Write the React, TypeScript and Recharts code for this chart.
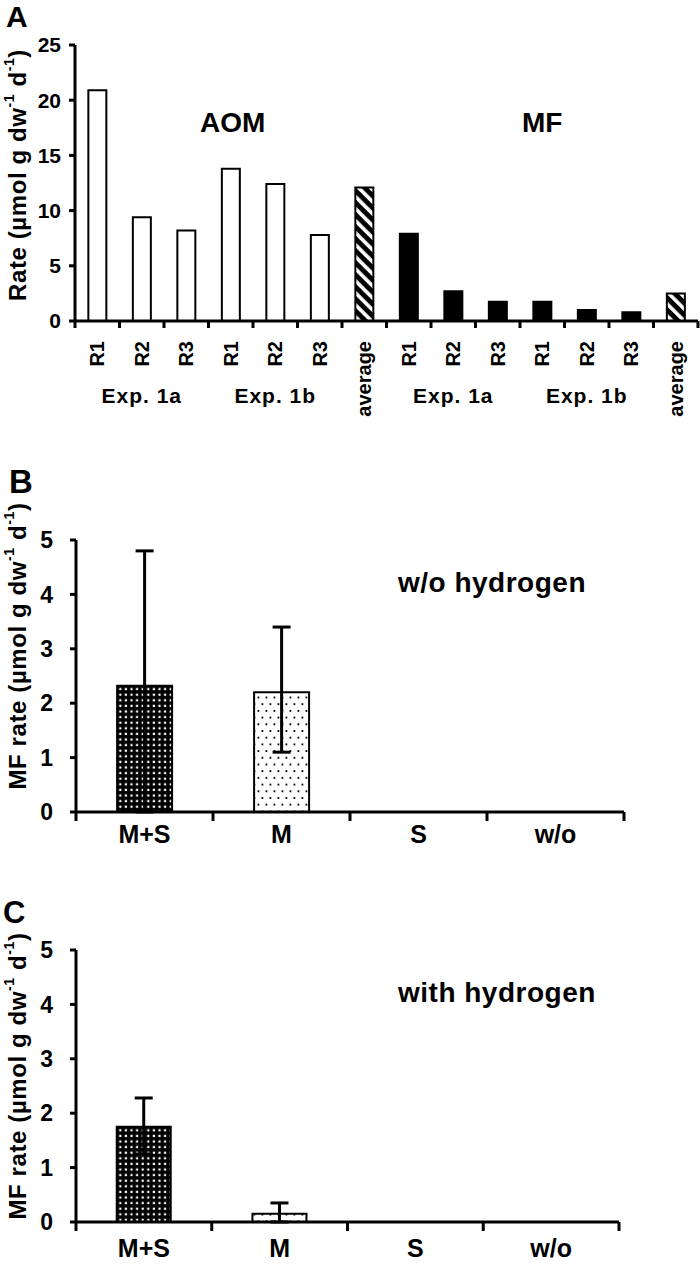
import { Bar, BarChart, Cell, ErrorBar, XAxis, YAxis } from "recharts";

const FONT = '"Liberation Sans", Arial, Helvetica, sans-serif';

// Panel A: rates per replicate (µmol g dw-1 d-1)
const rateCategories = ["R1", "R2", "R3", "R1", "R2", "R3", "average", "R1", "R2", "R3", "R1", "R2", "R3", "average"];
const rateProcesses = ["AOM", "AOM", "AOM", "AOM", "AOM", "AOM", "AOM", "MF", "MF", "MF", "MF", "MF", "MF", "MF"];
const rateExperiments = ["", "Exp. 1a", "", "", "Exp. 1b", "", "", "", "Exp. 1a", "", "", "Exp. 1b", "", ""];
const rateValues = [20.9, 9.4, 8.2, 13.8, 12.4, 7.8, 12.1, 7.9, 2.7, 1.75, 1.75, 1.0, 0.8, 2.5];
const rateTicks = [0, 5, 10, 15, 20, 25];

// Panels B and C: MF rate per treatment, mean with error
const treatments = ["M+S", "M", "S", "w/o"];
const mfWithoutH2 = [2.32, 2.2, 0, 0];
const mfWithoutH2Err = [[2.32, 2.48], [1.1, 1.2], null, null];
const mfWithH2 = [1.75, 0.15, 0, 0];
const mfWithH2Err = [[0.5, 0.53], [0.15, 0.2], null, null];
const mfTicks = [0, 1, 2, 3, 4, 5];

const rateData = rateValues.map((value, i) => ({ key: String(i), value }));
const withoutH2Data = treatments.map((name, i) => ({ name, value: mfWithoutH2[i], err: mfWithoutH2Err[i] }));
const withH2Data = treatments.map((name, i) => ({ name, value: mfWithH2[i], err: mfWithH2Err[i] }));

const rateFill = (i: number) =>
  rateCategories[i] === "average" ? "url(#hatchA)" : rateProcesses[i] === "AOM" ? "#fff" : "#000";

const A_LEFT = 75;
const A_RIGHT = 698;

function RateTick(props: any) {
  const { x, y, index } = props;
  const band = (A_RIGHT - A_LEFT) / rateCategories.length;
  const last = index === rateCategories.length - 1;
  return (
    <g>
      <line x1={x - band / 2} x2={x - band / 2} y1={y} y2={y + 7} stroke="#000" strokeWidth={3} />
      {last ? <line x1={x + band / 2} x2={x + band / 2} y1={y} y2={y + 7} stroke="#000" strokeWidth={3} /> : null}
      <text
        transform={`translate(${x},${y + 20}) rotate(-90)`}
        textAnchor="end"
        dominantBaseline="central"
        fontSize={20}
        fontWeight="bold"
        fontFamily={FONT}
        fill="#000"
      >
        {rateCategories[index]}
      </text>
      {rateExperiments[index] ? (
        <text
          x={x}
          y={y + 82}
          textAnchor="middle"
          fontSize={21}
          fontWeight="bold"
          letterSpacing={1}
          fontFamily={FONT}
          fill="#000"
        >
          {rateExperiments[index]}
        </text>
      ) : null}
    </g>
  );
}

function makeTreatmentTick(band: number, labelDy: number) {
  return function TreatmentTick(props: any) {
    const { x, y, index } = props;
    const last = index === treatments.length - 1;
    return (
      <g>
        <line x1={x - band / 2} x2={x - band / 2} y1={y} y2={y + 9} stroke="#000" strokeWidth={3} />
        {last ? <line x1={x + band / 2} x2={x + band / 2} y1={y} y2={y + 9} stroke="#000" strokeWidth={3} /> : null}
        <text x={x} y={y + labelDy} textAnchor="middle" fontSize={25} fontWeight="bold" fontFamily={FONT} fill="#000">
          {treatments[index]}
        </text>
      </g>
    );
  };
}

function AxisTitle({ cx, cy, prefix }: { cx: number; cy: number; prefix: string }) {
  return (
    <text
      transform={`translate(${cx},${cy}) rotate(-90)`}
      textAnchor="middle"
      dominantBaseline="central"
      fontSize={24}
      fontWeight="bold"
      letterSpacing={0.6}
      fontFamily={FONT}
      fill="#000"
    >
      {prefix} (µmol g dw
      <tspan dy={-8} fontSize={14}>-1</tspan>
      <tspan dy={8}> d</tspan>
      <tspan dy={-8} fontSize={14}>-1</tspan>
      <tspan dy={8}>)</tspan>
    </text>
  );
}

function PanelLetter({ x, y, size, children }: { x: number; y: number; size: number; children: string }) {
  return (
    <text x={x} y={y} fontSize={size} fontWeight="bold" fontFamily={FONT} fill="#000">
      {children}
    </text>
  );
}

function DotPatterns({ prefix }: { prefix: string }) {
  return (
    <defs>
      <pattern id={`${prefix}Dense`} patternUnits="userSpaceOnUse" width={5.6} height={5.6}>
        <rect width={5.6} height={5.6} fill="#000" />
        <rect x={1.6} y={1.6} width={2.2} height={2.2} fill="#fff" />
      </pattern>
      <pattern id={`${prefix}Sparse`} patternUnits="userSpaceOnUse" width={8} height={13.4}>
        <rect width={8} height={13.4} fill="#fff" />
        <rect x={1.5} y={2} width={1.8} height={1.8} fill="#000" />
        <rect x={5.5} y={8.7} width={1.8} height={1.8} fill="#000" />
      </pattern>
    </defs>
  );
}

const axisLine = { stroke: "#000", strokeWidth: 3 };
const tickLine = { stroke: "#000", strokeWidth: 3 };

function TreatmentChart({
  data,
  prefix,
  height,
  top,
  left,
  right,
  labelDy,
  note,
  noteY,
  letter,
  letterX,
  letterSize,
}: {
  data: { name: string; value: number; err: number[] | null }[];
  prefix: string;
  height: number;
  top: number;
  left: number;
  right: number;
  labelDy: number;
  note: string;
  noteY: number;
  letter: string;
  letterX: number;
  letterSize: number;
}) {
  const plotBottom = top + 272;
  const band = (right - left) / treatments.length;
  return (
    <BarChart
      width={700}
      height={height}
      data={data}
      margin={{ top, right: 700 - right, left: 0, bottom: height - plotBottom - 40 }}
      barCategoryGap="30%"
    >
      <DotPatterns prefix={prefix} />
      <XAxis
        dataKey="name"
        height={40}
        interval={0}
        axisLine={axisLine}
        tickLine={false}
        tickSize={0}
        tickMargin={0}
        tick={makeTreatmentTick(band, labelDy)}
      />
      <YAxis
        type="number"
        domain={[0, 5]}
        ticks={mfTicks}
        width={left}
        axisLine={axisLine}
        tickLine={tickLine}
        tickSize={6}
        tickMargin={17}
        tick={{ fill: "#000", fontSize: 23, fontWeight: "bold", fontFamily: FONT }}
      />
      <Bar dataKey="value" stroke="#000" strokeWidth={2} isAnimationActive={false}>
        {data.map((d) => (
          <Cell key={d.name} fill={d.name === "M+S" ? `url(#${prefix}Dense)` : `url(#${prefix}Sparse)`} />
        ))}
        <ErrorBar dataKey="err" width={9} strokeWidth={3} stroke="#000" direction="y" isAnimationActive={false} />
      </Bar>
      <AxisTitle cx={17} cy={206} prefix="MF rate" />
      <PanelLetter x={letterX} y={53} size={letterSize}>
        {letter}
      </PanelLetter>
      <text x={398} y={noteY} fontSize={28} fontWeight="bold" letterSpacing={0.5} fontFamily={FONT} fill="#000">
        {note}
      </text>
    </BarChart>
  );
}

export default function App() {
  return (
    <div style={{ position: "absolute", left: 0, top: 0, width: 700, height: 1265, background: "#fff", overflow: "hidden" }}>
      <div style={{ position: "absolute", left: 0, top: 0 }}>
        <BarChart
          width={700}
          height={440}
          data={rateData}
          margin={{ top: 45, right: 700 - A_RIGHT, left: 0, bottom: 19 }}
          barCategoryGap="30%"
        >
          <defs>
            <pattern id="hatchA" patternUnits="userSpaceOnUse" width={8.5} height={8.5} patternTransform="rotate(-45)">
              <rect width={8.5} height={8.5} fill="#000" />
              <rect width={3.6} height={8.5} fill="#fff" />
            </pattern>
          </defs>
          <XAxis
            dataKey="key"
            height={100}
            interval={0}
            axisLine={axisLine}
            tickLine={false}
            tickSize={0}
            tickMargin={0}
            tick={<RateTick />}
          />
          <YAxis
            type="number"
            domain={[0, 25]}
            ticks={rateTicks}
            width={A_LEFT}
            axisLine={axisLine}
            tickLine={tickLine}
            tickSize={6}
            tickMargin={8}
            tick={{ fill: "#000", fontSize: 21, fontWeight: "bold", fontFamily: FONT }}
          />
          <Bar dataKey="value" stroke="#000" strokeWidth={2} isAnimationActive={false}>
            {rateData.map((d, i) => (
              <Cell key={d.key} fill={rateFill(i)} />
            ))}
          </Bar>
          <AxisTitle cx={17} cy={175} prefix="Rate" />
          <PanelLetter x={6} y={27} size={30}>
            A
          </PanelLetter>
          <text x={200} y={132} fontSize={28} fontWeight="bold" fontFamily={FONT} fill="#000">
            AOM
          </text>
          <text x={522} y={132} fontSize={28} fontWeight="bold" fontFamily={FONT} fill="#000">
            MF
          </text>
        </BarChart>
      </div>
      <div style={{ position: "absolute", left: 0, top: 440 }}>
        <TreatmentChart
          data={withoutH2Data as any}
          prefix="noH2"
          height={430}
          top={100}
          left={76}
          right={624}
          labelDy={31}
          note="w/o hydrogen"
          noteY={152}
          letter="B"
          letterX={9}
          letterSize={33}
        />
      </div>
      <div style={{ position: "absolute", left: 0, top: 870 }}>
        <TreatmentChart
          data={withH2Data as any}
          prefix="withH2"
          height={395}
          top={80}
          left={76}
          right={619}
          labelDy={35}
          note="with hydrogen"
          noteY={132}
          letter="C"
          letterX={3}
          letterSize={31}
        />
      </div>
    </div>
  );
}
